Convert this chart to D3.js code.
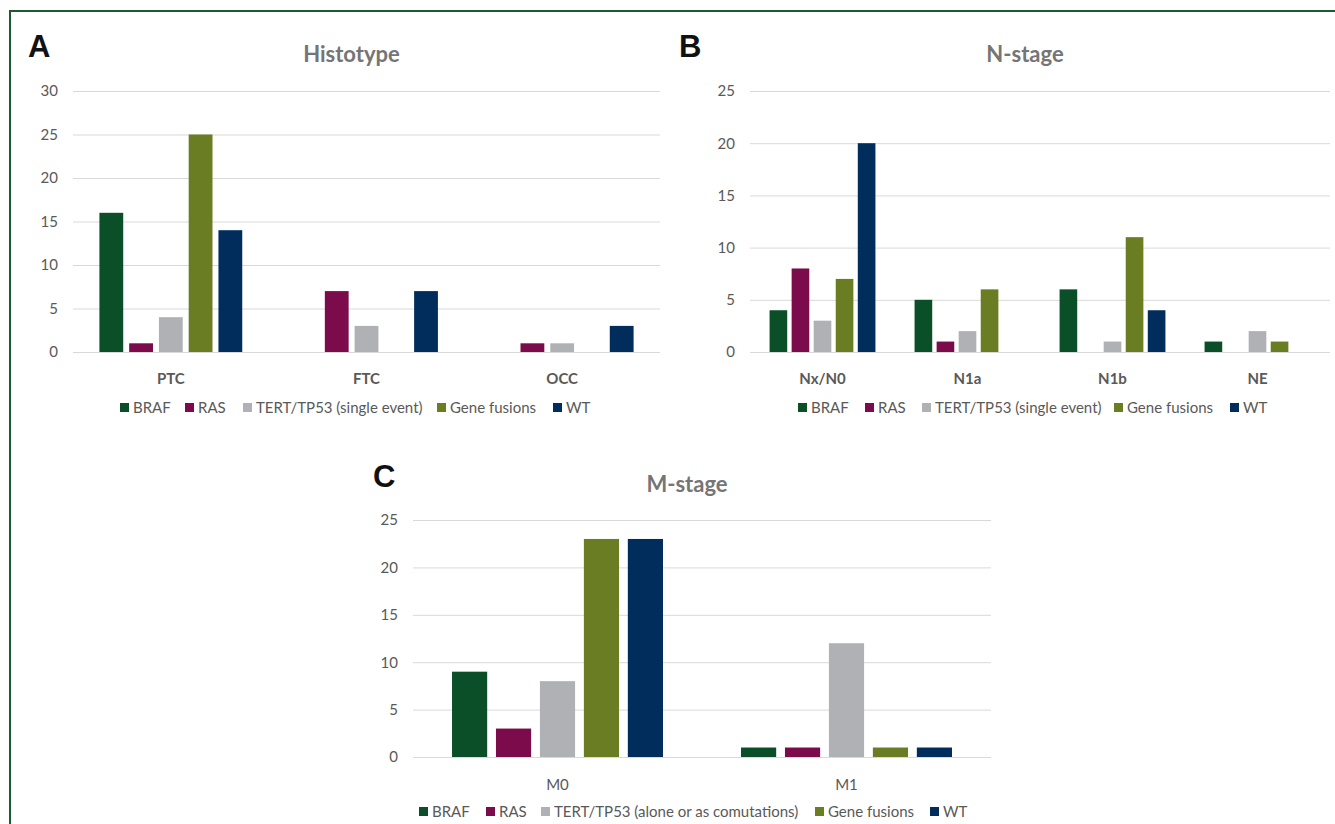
<!DOCTYPE html>
<html><head><meta charset="utf-8">
<script src="https://cdn.jsdelivr.net/npm/d3@7"></script>
<style>body{margin:0;background:#fff}svg{display:block}</style>
</head><body>
<svg id="c" width="1335" height="824"></svg>
<script>
// ---- data ----
const seriesA = ["BRAF","RAS","TERT/TP53 (single event)","Gene fusions","WT"];
const seriesC = ["BRAF","RAS","TERT/TP53 (alone or as comutations)","Gene fusions","WT"];
const catsA = ["PTC","FTC","OCC"];
const valsA = [[16,1,4,25,14],[0,7,3,0,7],[0,1,1,0,3]];
const ticksA = [0,5,10,15,20,25,30];
const catsB = ["Nx/N0","N1a","N1b","NE"];
const valsB = [[4,8,3,7,20],[5,1,2,6,0],[6,0,1,11,4],[1,0,2,1,0]];
const ticksB = [0,5,10,15,20,25];
const catsC = ["M0","M1"];
const valsC = [[9,3,8,23,23],[1,1,12,1,1]];
const ticksC = [0,5,10,15,20,25];
const colors = ["#0b4f29","#7c0b4c","#b0b1b4","#6b7d22","#012d5c"];

// ---- layout ----
const panels = [
  {letter:"A", lx:28, ly:57, title:"Histotype", cats:catsA, vals:valsA, ticks:ticksA, series:seriesA,
   x0:73, x1:660, yTop:91, yBot:352, catY:384, catBold:true, legY:408, legX:[120,185,243,437,553]},
  {letter:"B", lx:679, ly:57, title:"N-stage", cats:catsB, vals:valsB, ticks:ticksB, series:seriesA,
   x0:750, x1:1330, yTop:91, yBot:352, catY:384, catBold:true, legY:408, legX:[798,865,922,1114,1230]},
  {letter:"C", lx:373, ly:487, title:"M-stage", cats:catsC, vals:valsC, ticks:ticksC, series:seriesC,
   x0:413, x1:991, yTop:520, yBot:757, catY:790, catBold:false, legY:812, legX:[419,486,541,815,930]}
];
const titleY = {A:62, B:62, C:492};

const svg = d3.select("#c");
// frame
svg.append("line").attr("x1",10).attr("x2",1335).attr("y1",11).attr("y2",11).attr("stroke","#1d5a34").attr("stroke-width",2);
svg.append("line").attr("x1",10).attr("x2",10).attr("y1",10).attr("y2",824).attr("stroke","#1d5a34").attr("stroke-width",2);

const font = "Lato, 'Open Sans', sans-serif";

panels.forEach(p => {
  const g = svg.append("g");
  const y = d3.scaleLinear().domain([0, d3.max(p.ticks)]).range([p.yBot, p.yTop]);
  const x0 = d3.scaleBand().domain(p.cats).range([p.x0, p.x1]).paddingInner(0.27).paddingOuter(0.135);
  const x1 = d3.scaleBand().domain(d3.range(5)).range([0, x0.bandwidth()]).paddingInner(0.2);

  // grid
  const yAxis = d3.axisLeft(y).tickValues(p.ticks).tickSize(-(p.x1 - p.x0)).tickPadding(15);
  const ga = g.append("g").attr("transform",`translate(${p.x0},0)`).call(yAxis);
  ga.select(".domain").remove();
  ga.selectAll(".tick line").attr("stroke","#d9d9d9").attr("stroke-width",1);
  ga.selectAll(".tick text").attr("fill","#595959").style("font-family",font).style("font-size","15px");

  // bars
  p.cats.forEach((c, ci) => {
    g.append("g").selectAll("rect").data(p.vals[ci]).join("rect")
      .attr("x",(d,i)=>x0(c)+x1(i)).attr("width",x1.bandwidth())
      .attr("y",d=>y(d)).attr("height",d=>p.yBot - y(d))
      .attr("fill",(d,i)=>colors[i]);
  });
  // baseline
  g.append("line").attr("x1",p.x0).attr("x2",p.x1).attr("y1",p.yBot+0.5).attr("y2",p.yBot+0.5).attr("stroke","#d9d9d9");

  // category labels
  const xAxis = d3.axisBottom(x0).tickSize(0).tickPadding(0);
  const gx = g.append("g").attr("transform",`translate(0,${p.catY})`).call(xAxis);
  gx.select(".domain").remove();
  gx.selectAll(".tick text").attr("dy",0).attr("fill","#595959").style("font-family",font)
    .style("font-size","15px").style("font-weight",p.catBold?"bold":"normal");

  // title
  svg.append("text").attr("x",(p.x0+p.x1)/2 - 15).attr("y",titleY[p.letter]).attr("text-anchor","middle")
    .attr("fill","#757575").style("font-family",font).style("font-size","22px").style("font-weight","bold").text(p.title);
  // letter
  svg.append("text").attr("x",p.lx).attr("y",p.ly).attr("fill","#111")
    .style("font-family","'Liberation Sans', Arial, sans-serif").style("font-size","31px").style("font-weight","bold").text(p.letter);

  // legend
  const lg = g.append("g").selectAll("g").data(p.series).join("g")
    .attr("transform",(d,i)=>`translate(${p.legX[i]},${p.legY})`);
  lg.append("rect").attr("x",0).attr("y",-5).attr("width",9).attr("height",9).attr("fill",(d,i)=>colors[i]);
  lg.append("text").attr("x",13).attr("y",5).attr("fill","#595959").style("font-family",font).style("font-size","15px").text(d=>d);
});
</script>
</body></html>
